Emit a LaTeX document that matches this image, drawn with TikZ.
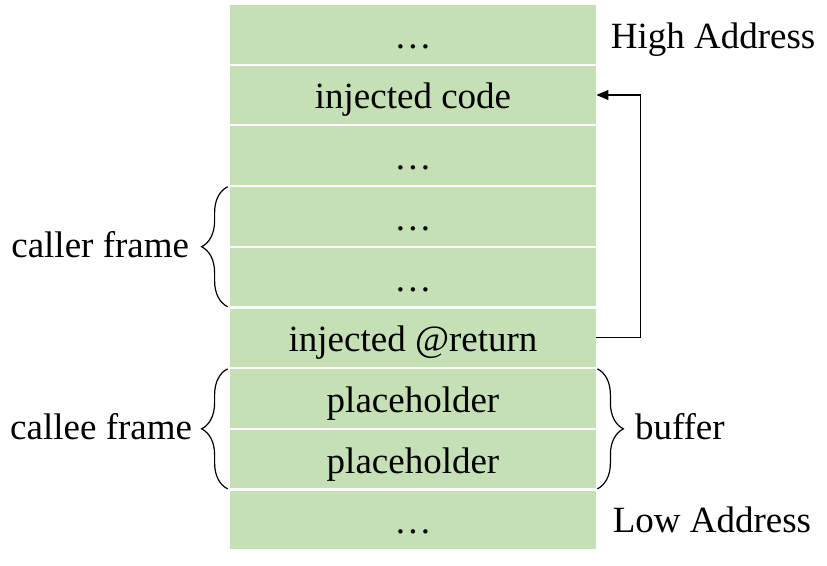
\documentclass[tikz,border=0pt]{standalone}
\usepackage{fontspec}
\setmainfont{Liberation Serif}
\usetikzlibrary{decorations.pathreplacing,arrows.meta,calc}
\definecolor{cellgreen}{HTML}{C5E0B4}
\newcommand{\mydots}{.\kern1.6pt.\kern1.6pt.}
\begin{document}
\begin{tikzpicture}[x=0.5pt,y=-0.5pt,
  cell/.style={fill=cellgreen,minimum width=183pt,minimum height=29.25pt,inner sep=0pt,
    text height=14pt,text depth=0pt,font=\fontsize{18.5}{22}\selectfont},
  lbl/.style={inner sep=0pt,font=\fontsize{18.5}{22}\selectfont},
  bracestyle/.style={decorate,decoration={brace,amplitude=13pt},line width=0.6pt},
  link/.style={line width=0.55pt,-{Triangle[length=6pt,width=5pt]}}]
\useasboundingbox (0,0) rectangle (827,566);
\node[cell] (r0) at (413,34.3) {\mydots};
\node[cell] (r1) at (413,95.0) {injected code};
\node[cell] (r2) at (413,155.7) {\mydots};
\node[cell] (r3) at (413,216.4) {\mydots};
\node[cell] (r4) at (413,277.1) {\mydots};
\node[cell] (r5) at (413,337.8) {injected @return};
\node[cell] (r6) at (413,398.5) {placeholder};
\node[cell] (r7) at (413,459.2) {placeholder};
\node[cell] (r8) at (413,519.9) {\mydots};
\node[lbl,anchor=west] (hi) at ([xshift=7pt,yshift=-2.5pt]r0.east) {High Address};
\node[lbl,anchor=west] (lo) at ([xshift=8pt]r8.east) {Low Address};
\draw[bracestyle] ([xshift=-1pt]r4.south west) -- ([xshift=-1pt]r3.north west)
  node[lbl,midway,anchor=east,xshift=-19pt,yshift=1pt] (caller) {caller frame};
\draw[bracestyle] ([xshift=-1pt]r7.south west) -- ([xshift=-1pt]r6.north west)
  node[lbl,midway,anchor=east,xshift=-17.5pt,yshift=1pt] (callee) {callee frame};
\draw[bracestyle] ([xshift=0.5pt]r6.north east) -- ([xshift=0.5pt]r7.south east)
  node[lbl,midway,anchor=west,xshift=18.5pt,yshift=1pt] (buf) {buffer};
\draw[link] (r5.east) -- ++(22pt,0) |- (r1.east);
\end{tikzpicture}
\end{document}
